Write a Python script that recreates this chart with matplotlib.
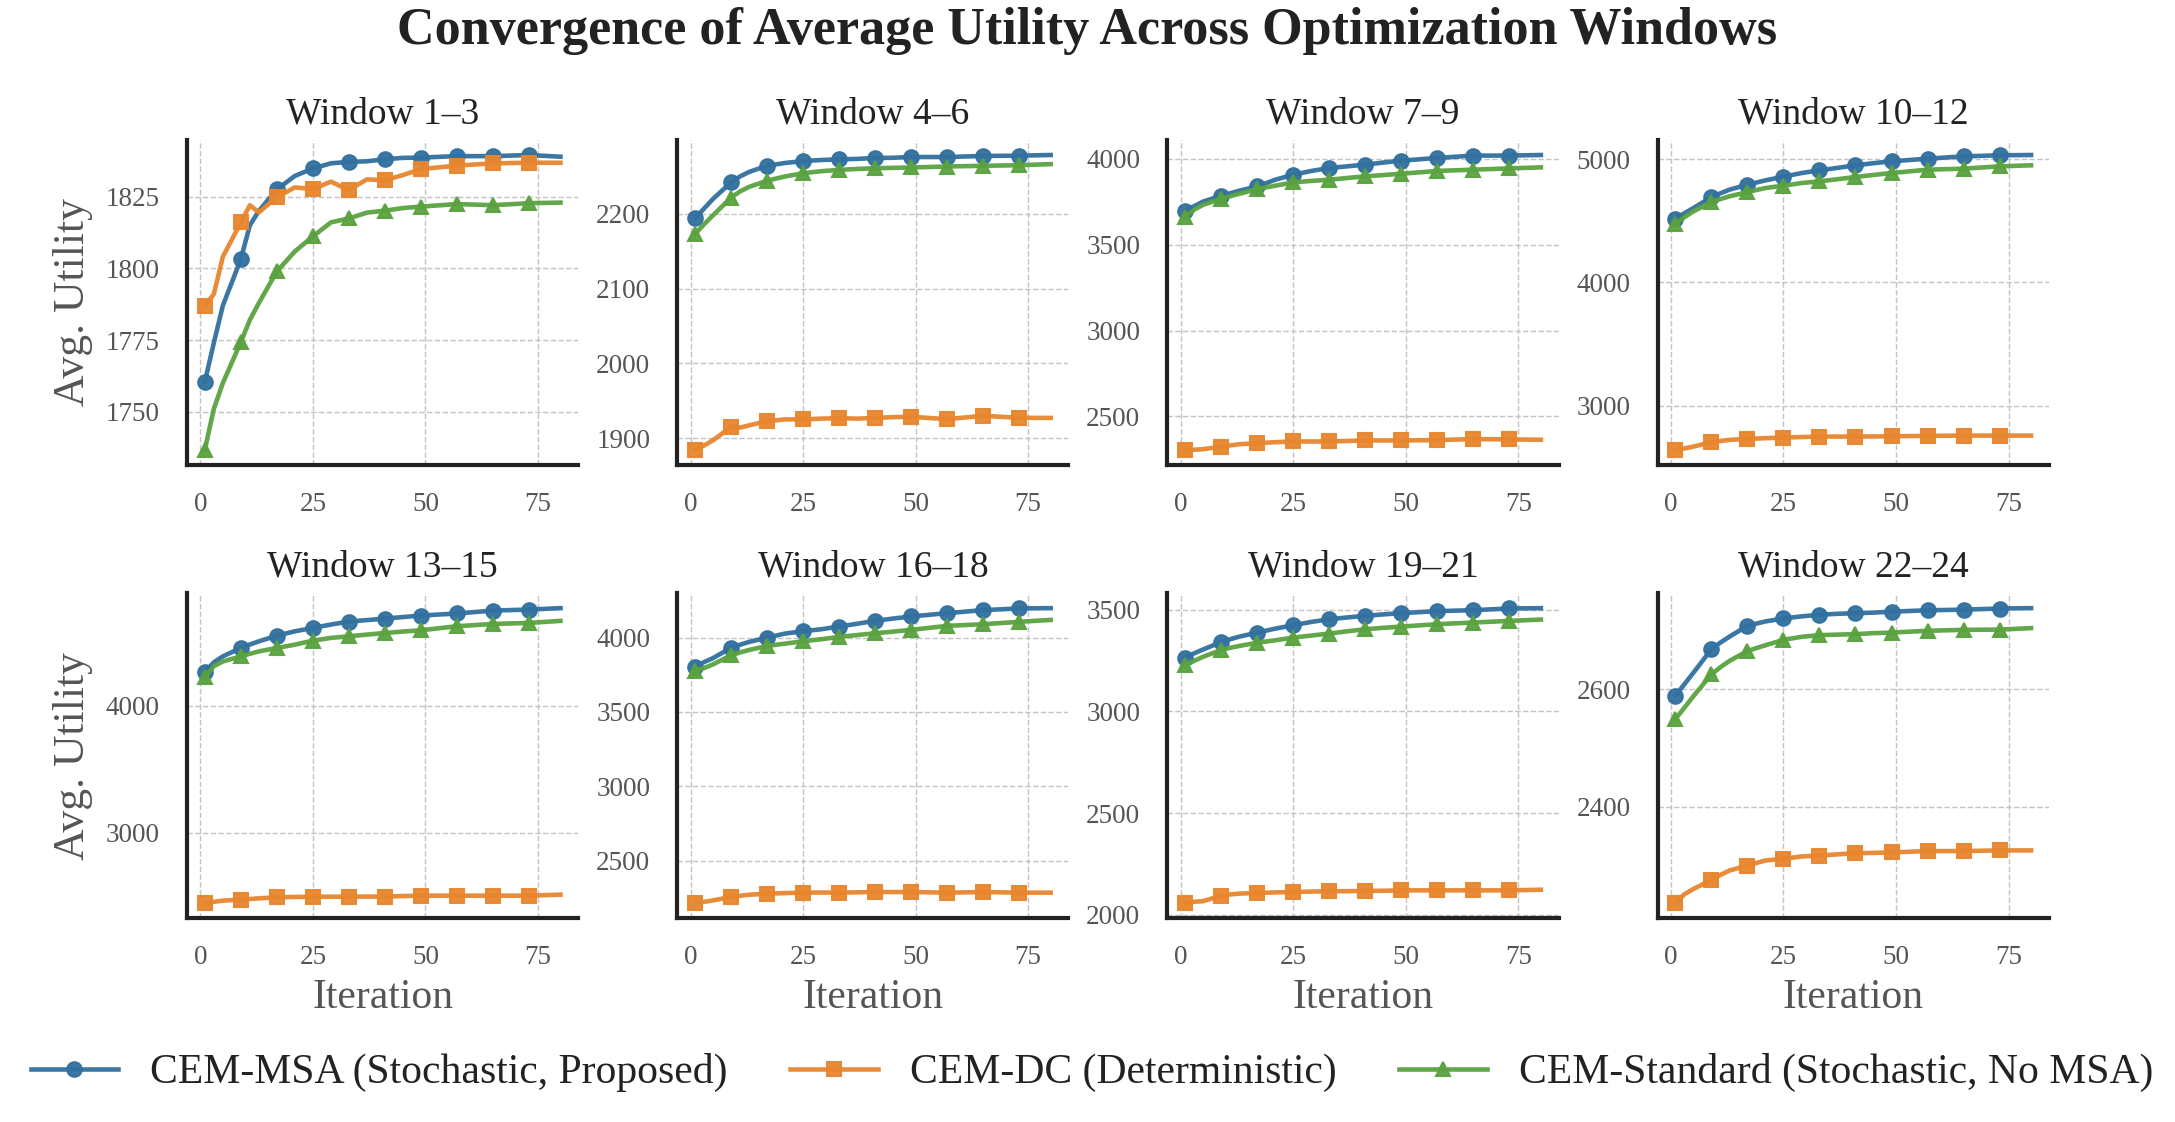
import matplotlib
matplotlib.use('Agg')
import matplotlib.pyplot as plt
from matplotlib.ticker import MultipleLocator, MaxNLocator

plt.rcParams['font.family'] = ['Liberation Serif', 'DejaVu Serif']

ITERS = [1, 3, 5, 9, 11, 13, 17, 21, 25, 29, 33, 37, 41, 45, 49, 57, 65, 73, 80]
MARK_ITERS = [1, 9, 17, 25, 33, 41, 49, 57, 65, 73]

WINDOWS = ['Window 1–3', 'Window 4–6', 'Window 7–9', 'Window 10–12',
           'Window 13–15', 'Window 16–18', 'Window 19–21', 'Window 22–24']

LABELS = ['CEM-MSA (Stochastic, Proposed)', 'CEM-DC (Deterministic)',
          'CEM-Standard (Stochastic, No MSA)']

CEM_MSA = [
    [1760.4, 1774, 1787, 1803.2, 1815, 1820, 1827.5, 1832.2, 1834.8, 1836.6, 1837.1, 1837.3, 1838, 1838.5, 1838.6, 1839.1, 1839.1, 1839.5, 1838.9],
    [2194, 2207, 2220, 2242, 2250, 2256, 2264.3, 2268, 2270.6, 2272, 2272.9, 2273.5, 2274.7, 2275, 2276, 2276, 2277.4, 2277.8, 2278.7],
    [3697.6, 3725, 3752, 3785.4, 3800, 3815, 3840, 3879, 3908, 3930, 3947, 3957, 3967, 3979, 3990, 4006, 4019.5, 4019.5, 4023],
    [4515.6, 4560, 4602, 4691.5, 4722, 4751, 4791.6, 4826.8, 4856.6, 4886, 4908, 4928, 4948.6, 4966, 4981, 5002.7, 5021.6, 5029.8, 5032.5],
    [4263, 4340, 4387, 4453, 4480, 4505, 4550, 4584, 4610.6, 4637, 4660.6, 4672, 4684, 4696, 4708, 4724, 4747, 4755, 4766],
    [3804, 3835, 3862, 3932, 3952, 3970.7, 4000, 4027, 4043, 4056, 4074, 4093, 4112.6, 4128, 4142, 4164.4, 4184.7, 4196, 4198],
    [3263, 3285, 3304, 3340, 3354, 3366.5, 3386.5, 3406, 3422.7, 3439, 3452, 3461, 3469, 3476, 3482, 3492, 3496.7, 3505, 3506.6],
    [2589.7, 2609, 2628.6, 2668.6, 2680, 2690, 2708.6, 2716, 2721, 2724.6, 2727.4, 2729, 2730, 2731, 2732.6, 2735, 2736, 2738, 2738.6],
]

CEM_DC = [
    [1787, 1791, 1804, 1816, 1822, 1819.5, 1824.8, 1828.2, 1827.6, 1830.2, 1827.3, 1831, 1830.7, 1832.5, 1834.6, 1835.8, 1836.6, 1836.8, 1836.8],
    [1884.2, 1890, 1897, 1915, 1914, 1917, 1922.6, 1925, 1925, 1926, 1926.7, 1926, 1927, 1928, 1928.5, 1925.3, 1929.9, 1927, 1927],
    [2305, 2306, 2309, 2324, 2331, 2338, 2344, 2350, 2354, 2354, 2354, 2357, 2360, 2360, 2360, 2362, 2368, 2366, 2364],
    [2640, 2652, 2667, 2702, 2712, 2721, 2729, 2735, 2740, 2744, 2748, 2748, 2748, 2749, 2750, 2754, 2756, 2756, 2756],
    [2447, 2457, 2466, 2474, 2479, 2484, 2492, 2495, 2497, 2497, 2497, 2498, 2498, 2502, 2505, 2505, 2505, 2505, 2513],
    [2214, 2222, 2232, 2255, 2263, 2270, 2277, 2281, 2284, 2285, 2284, 2286, 2288.5, 2288, 2288, 2284, 2288, 2284, 2284],
    [2057.6, 2064, 2067, 2094, 2100, 2104, 2107, 2110, 2112, 2114, 2115.5, 2116, 2117, 2118, 2120, 2120, 2120, 2120, 2123],
    [2236, 2251, 2260, 2275.4, 2284, 2291.4, 2300, 2308.6, 2311.4, 2315.4, 2317, 2319, 2321, 2321.5, 2322.3, 2324.6, 2324.6, 2325.7, 2325.7],
]

CEM_STD = [
    [1736.7, 1751, 1760, 1774.3, 1782, 1787.9, 1798.9, 1805.9, 1811.1, 1816, 1817.4, 1819.4, 1820.1, 1821, 1821.5, 1822.4, 1822, 1822.7, 1822.9],
    [2172.9, 2186, 2198, 2221.7, 2230, 2236, 2244.3, 2250, 2254.3, 2257, 2258.8, 2260, 2261, 2261.5, 2262, 2263.3, 2264.3, 2265, 2266.5],
    [3664, 3705, 3733, 3768, 3783, 3797, 3824.5, 3844, 3863.5, 3872, 3879, 3889, 3899, 3906, 3914, 3930, 3937.5, 3945, 3951],
    [4475, 4528, 4575, 4651, 4675, 4697, 4732, 4764.6, 4783.5, 4805, 4818.7, 4836, 4854, 4871, 4886.3, 4913.4, 4921.5, 4940.5, 4948.6],
    [4223.7, 4310, 4347, 4387, 4407, 4426, 4453, 4479, 4510.6, 4532, 4545, 4558, 4571, 4582, 4592, 4624, 4642, 4650, 4666],
    [3775, 3795, 3820, 3881, 3900, 3916.7, 3943.7, 3959.5, 3975, 3988.7, 4004.5, 4017, 4029, 4040, 4052, 4079, 4090, 4106, 4119],
    [3225, 3248, 3268, 3301, 3312, 3320.7, 3337, 3348.7, 3362, 3372, 3381.7, 3393, 3403, 3410, 3416, 3428, 3436, 3444, 3450.6],
    [2549.7, 2569, 2588.6, 2625.7, 2638, 2648.6, 2665.7, 2675.4, 2684.6, 2689.7, 2692.6, 2693.5, 2694.3, 2696, 2697, 2700, 2701.7, 2702, 2704.6],
]

COLORS = ['#31709f', '#e8862e', '#5aa23f']
MARKERS = ['o', 's', '^']

mark_idx = [ITERS.index(m) for m in MARK_ITERS]

fig, axes = plt.subplots(2, 4, figsize=(14.5, 7.48), dpi=150)
fig.subplots_adjust(left=0.086, right=0.942, top=0.875, bottom=0.182,
                    wspace=0.253, hspace=0.397)

for i, ax in enumerate(axes.flat):
    series = [CEM_MSA[i], CEM_DC[i], CEM_STD[i]]
    for j, ys in enumerate(series):
        ax.plot(ITERS, ys, color=COLORS[j], marker=MARKERS[j], markevery=mark_idx,
                linewidth=2.2, markersize=7, alpha=0.95, label=LABELS[j])
    ax.set_title(WINDOWS[i], fontsize=18, color='#222222', pad=8)
    ax.xaxis.set_major_locator(MultipleLocator(25))
    ax.yaxis.set_major_locator(MaxNLocator(nbins=5, steps=[1, 2, 2.5, 5, 10]))
    ax.grid(True, linestyle='--', linewidth=0.7, color='#c4c4c4')
    for s in ['top', 'right']:
        ax.spines[s].set_visible(False)
    for s in ['left', 'bottom']:
        ax.spines[s].set_linewidth(2.0)
        ax.spines[s].set_color('#222222')
    ax.tick_params(axis='both', length=0, pad=13, labelsize=13, labelcolor='#555555')
    if i % 4 == 0:
        ax.set_ylabel('Avg. Utility', fontsize=21, color='#555555', labelpad=6)
    if i >= 4:
        ax.set_xlabel('Iteration', fontsize=20, color='#555555', labelpad=4)

fig.suptitle('Convergence of Average Utility Across Optimization Windows',
             fontsize=25, fontweight='bold', color='#222222', y=0.972, va='center')

handles, labels = axes.flat[0].get_legend_handles_labels()
fig.legend(handles, labels, loc='center', bbox_to_anchor=(0.502, 0.044), ncol=3,
           frameon=False, fontsize=20, handlelength=2.1, handletextpad=0.77,
           columnspacing=1.5, labelcolor='#222222')

fig.savefig('out.png', dpi=150)
